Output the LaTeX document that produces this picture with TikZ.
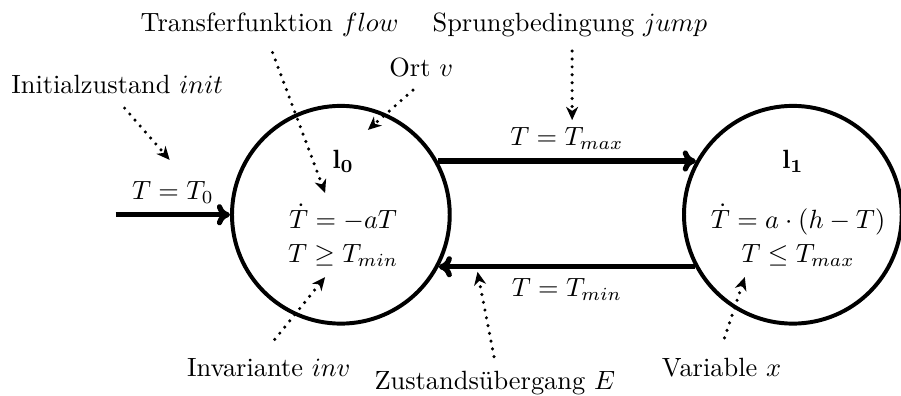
\documentclass[tikz,border=0pt]{standalone}
\usepackage{amsmath,amssymb}
\usepackage{xcolor}
\usepackage{tikz}
\usetikzlibrary{arrows.meta,positioning,calc}

\begin{document}
\begin{tikzpicture}[
  loc/.style={circle, draw, line width=1.5pt, minimum size=2.9cm, inner sep=0pt},
  lbl/.style={inner sep=1pt},
  trans/.style={-{To[length=5pt,width=8pt]}, line width=2pt},
  note/.style={-{Stealth[length=5pt,width=4.5pt,inset=1.5pt]}, line width=1.3pt,
               dash pattern=on 0pt off 3pt, line cap=round}
]
\useasboundingbox (-4.54,-2.41) rectangle (7.46,2.86);

% Locations
\node[loc] (l0) at (0,0)    {};
\node[loc] (l1) at (6.02,0) {};
\node (l0name) at (0.03,0.71) {$\mathbf{l_0}$};
\node (l1name) at (6.02,0.71) {$\mathbf{l_1}$};
\node[align=center] (l0eq) at (0.03,-0.27) {$\dot{T} = -aT$\\[1pt] $T \geq T_{min}$};
\node[align=center] (l1eq) at (6.09,-0.27) {$\dot{T} = a \cdot (h - T)$\\[1pt] $T \leq T_{max}$};

% Labels
\node[lbl] (initlbl) at (-2.98,1.73)  {Initialzustand $init$};
\node[lbl] (flowlbl) at (-0.95,2.53)  {Transferfunktion $flow$};
\node[lbl] (jumplbl) at (3.05,2.53)   {Sprungbedingung $jump$};
\node[lbl] (ortlbl)  at (1.07,1.96)   {Ort $v$};
\node[lbl] (invlbl)  at (-0.96,-2.04) {Invariante $inv$};
\node[lbl] (edgelbl) at (2.05,-2.24)  {Zustands\"ubergang $E$};
\node[lbl] (varlbl)  at (5.07,-2.04)  {Variable $x$};

% Pointer ends
\coordinate (start)    at (-3.0,0);
\coordinate (initfrom) at (-2.88,1.42);  \coordinate (initto) at (-2.28,0.73);
\coordinate (flowfrom) at (-0.91,2.16);  \coordinate (flowto) at (-0.21,0.29);
\coordinate (ortfrom)  at (0.96,1.66);   \coordinate (ortto)  at (0.36,1.13);
\coordinate (jumpfrom) at (3.08,2.18);   \coordinate (jumpto) at (3.08,1.26);
\coordinate (invfrom)  at (-0.88,-1.66); \coordinate (invto)  at (-0.21,-0.83);
\coordinate (edgefrom) at (2.04,-1.89);  \coordinate (edgeto) at (1.82,-0.76);
\coordinate (varfrom)  at (5.11,-1.64);  \coordinate (varto)  at (5.38,-0.83);

% Transitions
\draw[trans] (start) -- (l0) node[midway,above] {$T = T_0$};
\draw[trans] (l0.29) -- (l1.151) node[midway,above] {$T = T_{max}$};
\draw[trans] (l1.208) -- (l0.332) node[midway,below] {$T = T_{min}$};

% Pointers
\draw[note] (initfrom) -- (initto);
\draw[note] (flowfrom) -- (flowto);
\draw[note] (ortfrom) -- (ortto);
\draw[note] (jumpfrom) -- (jumpto);
\draw[note] (invfrom) -- (invto);
\draw[note] (edgefrom) -- (edgeto);
\draw[note] (varfrom) -- (varto);
\end{tikzpicture}
\end{document}
